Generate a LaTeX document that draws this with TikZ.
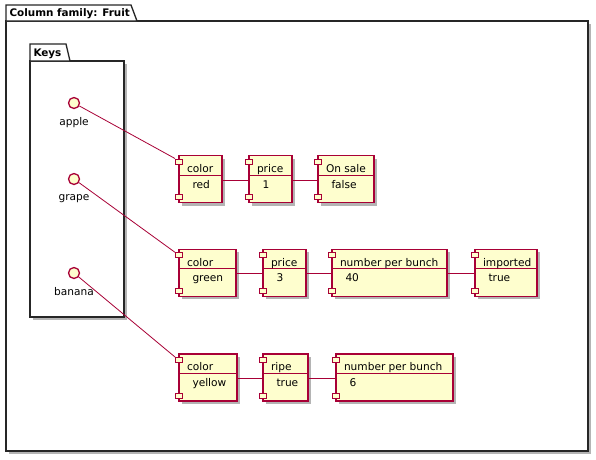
\documentclass[tikz,border=0pt]{standalone}
\usepackage{fontspec}
\setmainfont{DejaVu Sans}
\usetikzlibrary{fit,calc}
\definecolor{pfill}{HTML}{FEFECE}
\definecolor{pline}{HTML}{A80036}
\definecolor{shadowc}{HTML}{B4B4B4}
\tikzset{
  shade box/.style={fill=shadowc},
  pkg/.style={draw=black!85, line width=1.3, fill=white},
  compbox/.style={draw=pline, fill=pfill, line width=1.3, rectangle, inner sep=0},
  port/.style={draw=pline, fill=pfill, line width=1, rectangle, minimum width=7, minimum height=5, inner sep=0},
  iface/.style={draw=pline, fill=pfill, line width=1.3, circle, minimum size=11, inner sep=0},
  conn/.style={draw=pline, line width=0.8},
  txt/.style={font=\fontsize{10.6}{12}\selectfont, inner sep=0, outer sep=0},
  btxt/.style={font=\fontsize{10.4}{12}\selectfont\bfseries, inner sep=0, outer sep=0},
}
% name, left, top, right, bottom, header, value
\newcommand\mkcomp[7]{%
  \fill[shade box] (#2+3,#3+3) rectangle (#4+3,#5+3);
  \node[compbox, fit={(#2,#3)(#4,#5)}] (#1) {};
  \draw[pline, line width=1] (#2,#3+19.5) -- (#4,#3+19.5);
  \node[txt, anchor=base west] (#1h) at (#2+8,#3+16.8) {#6};
  \node[txt, anchor=base west] (#1v) at (#2+13.5,#3+32.5) {#7};
  \node[port] (#1pa) at (#2,#3+6) {};
  \node[port] (#1pb) at (#2,#5-5.5) {};
  \coordinate (#1l) at (#2,#3+24.5);
  \coordinate (#1r) at (#4,#3+24.5);
}
\begin{document}
\begin{tikzpicture}[x=1pt,y=-1pt]
\useasboundingbox (0,0) rectangle (596,459);
% outer package
\fill[shade box] (9,24) rectangle (591,454);
\draw[pkg] (6,21) rectangle (588,451);
\draw[pkg] (6,21) -- (6,5) -- (131,5) -- (137,21) -- cycle;
\node[btxt, anchor=base west] (fruittitle) at (9.5,16.5) {Column family: Fruit};
% keys package
\fill[shade box] (33,64) rectangle (127,320);
\draw[pkg] (30,61) rectangle (124,317);
\draw[pkg] (30,61) -- (30,44) -- (66,44) -- (70,61) -- cycle;
\node[btxt, anchor=base west] (keystitle) at (33.5,56) {Keys};
% interfaces
\node[iface] (apple) at (74,103) {};
\node[txt, anchor=base] (applel) at (74,125) {apple};
\node[iface] (grape) at (74,179) {};
\node[txt, anchor=base] (grapel) at (74,200.5) {grape};
\node[iface] (banana) at (74,273) {};
\node[txt, anchor=base] (bananal) at (74,295.5) {banana};
% components
\mkcomp{c1}{179}{155.5}{222}{202.5}{color}{red}
\mkcomp{c2}{249}{155.5}{292}{202.5}{price}{1}
\mkcomp{c3}{318}{155.5}{374}{202.5}{On sale}{false}
\mkcomp{d1}{179}{249.3}{236}{296.3}{color}{green}
\mkcomp{d2}{263}{249.3}{306}{296.3}{price}{3}
\mkcomp{d3}{332}{249.3}{447}{296.3}{number per bunch}{40}
\mkcomp{d4}{475}{249.3}{537}{296.3}{imported}{true}
\mkcomp{e1}{179}{354}{237}{401}{color}{yellow}
\mkcomp{e2}{263}{354}{308}{401}{ripe}{true}
\mkcomp{e3}{336}{354}{453}{401}{number per bunch}{6}
% connectors
\draw[conn] (apple) -- (c1pa.north west);
\draw[conn] (grape) -- (d1pa.north west);
\draw[conn] (banana) -- (e1pa.north west);
\draw[conn] (c1r) -- (c2l);
\draw[conn] (c2r) -- (c3l);
\draw[conn] (d1r) -- (d2l);
\draw[conn] (d2r) -- (d3l);
\draw[conn] (d3r) -- (d4l);
\draw[conn] (e1r) -- (e2l);
\draw[conn] (e2r) -- (e3l);
\end{tikzpicture}
\end{document}
